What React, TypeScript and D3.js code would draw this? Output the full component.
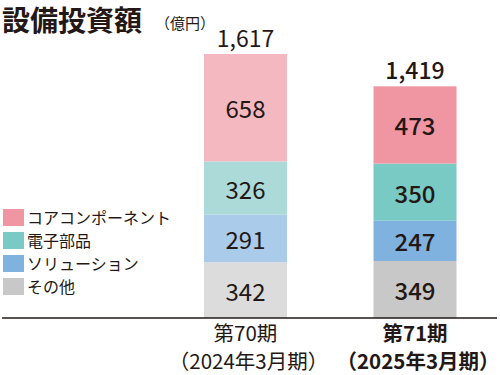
import * as d3 from 'd3'
import { FC } from 'react'

const WIDTH = 500
const HEIGHT = 375
const BASELINE = 318
const TOP = 54
const BAR_WIDTH = 83
const FONT = '"Noto Sans CJK JP", "Noto Sans", sans-serif'

const PERIODS = ['第70期', '第71期']
const PERIOD_SUB = ['（2024年3月期）', '（2025年3月期）']
const SEGMENTS = ['その他', 'ソリューション', '電子部品', 'コアコンポーネント']
const OTHER = [342, 349]
const SOLUTION = [291, 247]
const ELECTRONIC = [326, 350]
const CORE = [658, 473]
const TOTALS = ['1,617', '1,419']

const COLORS_PREV = ['#dcdcdc', '#abcbea', '#acdad8', '#f4b8c0']
const COLORS_CURR = ['#c8c8c8', '#80b2e0', '#79c9c4', '#f095a2']

const LEGEND = ['コアコンポーネント', '電子部品', 'ソリューション', 'その他']
const LEGEND_COLORS = ['#f095a2', '#79c9c4', '#80b2e0', '#c8c8c8']

const App: FC = () => {
  const rows = PERIODS.map((p, i) => ({
    period: p,
    その他: OTHER[i],
    ソリューション: SOLUTION[i],
    電子部品: ELECTRONIC[i],
    コアコンポーネント: CORE[i],
  }))
  const stack = d3.stack<any>().keys(SEGMENTS)(rows)
  const maxTotal = d3.max(rows, (r) => SEGMENTS.reduce((s, k) => s + (r as any)[k], 0)) as number

  const xScale = d3.scalePoint<string>().domain(PERIODS).range([245.5, 415])
  const yScale = d3.scaleLinear().domain([0, maxTotal]).range([BASELINE, TOP])

  return (
    <svg
      width={ WIDTH }
      height={ HEIGHT }
      style={{ position: 'absolute', left: 0, top: 0, fontFamily: FONT }}
    >
      <rect width={ WIDTH } height={ HEIGHT } fill='#fff' />
      <text x={ 2 } y={ 31 } fontSize={ 28 } fontWeight={ 700 } fill='#231815'>設備投資額</text>
      <text x={ 155 } y={ 29 } fontSize={ 15 } fill='#231815'>（億円）</text>

      { stack.map((layer, li) =>
        layer.map((d, i) => {
          const cx = xScale(PERIODS[i]) as number
          const y0 = yScale(d[0])
          const y1 = yScale(d[1])
          return (
            <g key={ `${li}-${i}` }>
              <rect
                x={ cx - BAR_WIDTH / 2 }
                y={ y1 }
                width={ BAR_WIDTH }
                height={ y0 - y1 }
                fill={ i === 0 ? COLORS_PREV[li] : COLORS_CURR[li] }
              />
              <text
                x={ cx }
                y={ (y0 + y1) / 2 }
                textAnchor='middle'
                dominantBaseline='central'
                fontSize={ 24 }
                fontWeight={ i === 1 ? 500 : 400 }
                fill='#231815'
              >
                { d[1] - d[0] }
              </text>
            </g>
          )
        })
      ) }

      { rows.map((r, i) => {
        const top = stack[stack.length - 1][i][1]
        return (
          <text
            key={ i }
            x={ xScale(r.period) }
            y={ yScale(top) - 7 }
            textAnchor='middle'
            fontSize={ 23 }
            fontWeight={ i === 1 ? 500 : 400 }
            fill='#231815'
          >
            { TOTALS[i] }
          </text>
        )
      }) }

      <line x1={ 2 } x2={ 497 } y1={ BASELINE } y2={ BASELINE } stroke='#231815' strokeWidth={ 1.5 } />

      { PERIODS.map((p, i) => (
        <g key={ p } fontWeight={ i === 1 ? 700 : 400 } fill='#231815'>
          <text x={ xScale(p) } y={ 341 } textAnchor='middle' fontSize={ 20.5 }>{ p }</text>
          <text x={ (xScale(p) as number) + 3 } y={ 369 } textAnchor='middle' fontSize={ 20.5 }>{ PERIOD_SUB[i] }</text>
        </g>
      )) }

      { LEGEND.map((name, i) => (
        <g key={ name } transform={ `translate(3, ${209 + i * 23})` }>
          <rect width={ 21 } height={ 17 } fill={ LEGEND_COLORS[i] } />
          <text x={ 24 } y={ 15 } fontSize={ 16 } fill='#231815'>{ name }</text>
        </g>
      )) }
    </svg>
  )
}

export default App
